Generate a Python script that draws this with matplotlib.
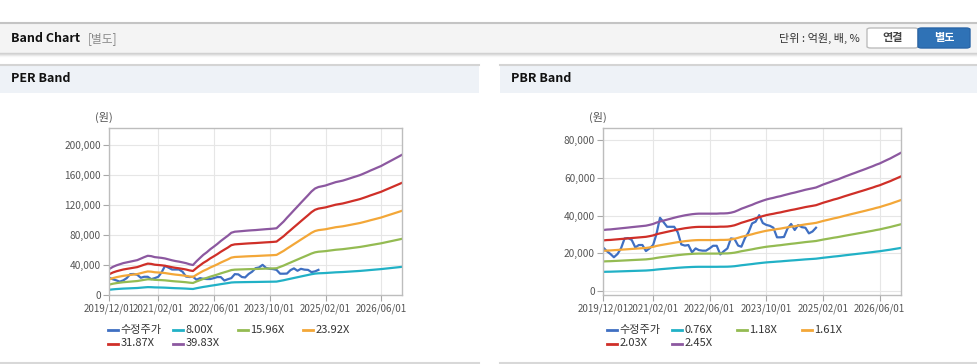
import numpy as np
import pandas as pd
import matplotlib
matplotlib.use('Agg')
import matplotlib.pyplot as plt
import matplotlib.dates as mdates
from matplotlib.lines import Line2D
from matplotlib.patches import Rectangle, FancyBboxPatch
from matplotlib.ticker import FuncFormatter

plt.rcParams['font.family'] = ['Noto Sans CJK KR', 'DejaVu Sans']

W, H = 978, 364

# 월별 데이터 (2019/12 ~ 2026/12)
months = pd.date_range('2019-12-01', periods=85, freq='MS')

# 수정주가 (2019/12 ~ 2024/12)
price = [22900, 21000, 19500, 17800, 19500, 22500, 27800, 28000, 27000, 23000,
         24300, 24300, 21100, 22500, 24300, 30000, 38800, 36500, 34000, 34000,
         34000, 31000, 24600, 24000, 24300, 20400, 22500, 21600, 21300, 21300,
         22500, 23900, 23900, 19300, 21000, 22500, 27800, 27500, 24000, 23400,
         28000, 31000, 35800, 36700, 40200, 36000, 35000, 34500, 33500, 28400,
         28400, 28600, 33200, 35500, 32300, 34900, 33800, 33500, 30500, 31500,
         33500]

# EPS (원)
eps = [871, 941, 992, 1029, 1067, 1092, 1117, 1142, 1167, 1218, 1268, 1313,
       1301, 1268, 1255, 1243, 1223, 1193, 1162, 1137, 1117, 1092, 1067, 1029, 1004,
       1130, 1243, 1343, 1431, 1532, 1619, 1707, 1808, 1898, 1983, 2084,
       2119, 2129, 2139, 2149, 2159, 2167, 2174, 2184, 2194, 2204, 2212, 2222, 2235,
       2348, 2460, 2586, 2712, 2837, 2963, 3088, 3214, 3339, 3465, 3565, 3615,
       3640, 3666, 3703, 3741, 3779, 3804, 3829, 3866, 3904, 3942, 3979, 4017,
       4067, 4118, 4168, 4218, 4268, 4318, 4381, 4444, 4507, 4569, 4632, 4695]

# BPS (원)
bps = [13180, 13270, 13310, 13390, 13470, 13550, 13630, 13710, 13800, 13880,
       13960, 14040, 14120, 14290, 14490, 14780, 15020, 15220, 15430, 15630,
       15840, 16040, 16200, 16370, 16490, 16610, 16690, 16730, 16730, 16730,
       16730, 16730, 16730, 16780, 16780, 16820, 16940, 17140, 17470, 17800,
       18080, 18370, 18650, 18980, 19270, 19550, 19800, 20000, 20160, 20370,
       20530, 20740, 20940, 21140, 21310, 21510, 21710, 21920, 22080, 22240,
       22410, 22730, 23060, 23310, 23590, 23880, 24120, 24410, 24730, 25020,
       25310, 25590, 25880, 26160, 26450, 26730, 27020, 27350, 27630, 28000,
       28370, 28730, 29140, 29550, 29960]

per_mult = [8.00, 15.96, 23.92, 31.87, 39.83]
pbr_mult = [0.76, 1.18, 1.61, 2.03, 2.45]

tick_dates = pd.to_datetime(['2019-12-01', '2021-02-01', '2022-06-01',
                             '2023-10-01', '2025-02-01', '2026-06-01'])
per_yticks = [0, 40000, 80000, 120000, 160000, 200000]
pbr_yticks = [0, 20000, 40000, 60000, 80000]

price_color = '#3f6fc2'
band_colors = ['#21b1c6', '#94bb52', '#f3a738', '#cf2f28', '#8c58a0']


def fx(x):
    return x / W


def fy(y):
    return 1 - y / H


fig = plt.figure(figsize=(W / 100, H / 100), dpi=100)
fig.patch.set_facecolor('white')

# 상단 헤더
fig.add_artist(Rectangle((0, fy(52.5)), 1, fy(22) - fy(52.5), transform=fig.transFigure,
                         facecolor='#f4f4f4', edgecolor='none'))
fig.add_artist(Line2D([0, 1], [fy(22.5), fy(22.5)], color='#c4c4c4', lw=1.5))
for i, a in enumerate([0.35, 0.22, 0.12, 0.05]):
    fig.add_artist(Line2D([0, 1], [fy(53 + i), fy(53 + i)], color='#888888', alpha=a, lw=1))

fig.text(fx(11), fy(38.5), 'Band Chart', fontsize=9, fontweight='bold', va='center', color='#111')
fig.text(fx(88), fy(38.5), '[별도]', fontsize=8.5, va='center', color='#8a8a8a')
fig.text(fx(860), fy(38.5), '단위 : 억원, 배, %', fontsize=8, va='center', ha='right', color='#333')

fig.add_artist(FancyBboxPatch((fx(867), fy(48)), fx(918) - fx(867), fy(28) - fy(48),
                              boxstyle='round,pad=0,rounding_size=0.004', transform=fig.transFigure,
                              facecolor='white', edgecolor='#bdbdbd', lw=1))
fig.add_artist(FancyBboxPatch((fx(918), fy(48)), fx(970) - fx(918), fy(28) - fy(48),
                              boxstyle='round,pad=0,rounding_size=0.004', transform=fig.transFigure,
                              facecolor='#2f72b6', edgecolor='#2a66a8', lw=1))
fig.text(fx(892.5), fy(38), '연결', fontsize=8, fontweight='bold', ha='center', va='center', color='#444')
fig.text(fx(944), fy(38), '별도', fontsize=8, fontweight='bold', ha='center', va='center', color='white')

# 패널 헤더
for x0, x1, title in [(0, 479, 'PER Band'), (500, 978, 'PBR Band')]:
    fig.add_artist(Rectangle((fx(x0), fy(93)), fx(x1) - fx(x0), fy(65) - fy(93),
                             transform=fig.transFigure, facecolor='#eef2f7', edgecolor='none'))
    fig.add_artist(Line2D([fx(x0), fx(x1)], [fy(64.5), fy(64.5)], color='#d4d4d4', lw=1.5))
    fig.add_artist(Line2D([fx(x0), fx(x1)], [fy(362.5), fy(362.5)], color='#d8d8d8', lw=1.5))
    fig.text(fx(x0 + 11), fy(79), title, fontsize=9, fontweight='bold', va='center', color='#111')


def style(ax, yticks, ylim):
    for s in ax.spines.values():
        s.set_color('#bdbdbd')
        s.set_linewidth(1)
    ax.grid(True, color='#e6e6e6', lw=0.8)
    ax.set_axisbelow(True)
    ax.tick_params(axis='both', colors='#a8a8a8', labelcolor='#555',
                   length=4, width=0.8, pad=2)
    ax.tick_params(axis='y', labelsize=7.3)
    ax.tick_params(axis='x', labelsize=7)
    ax.set_yticks(yticks)
    ax.yaxis.set_major_formatter(FuncFormatter(lambda v, p: f'{int(v):,}'))
    ax.set_xticks(tick_dates)
    ax.xaxis.set_major_formatter(mdates.DateFormatter('%Y/%m/%d'))
    ax.set_xlim(months[0], months[-1])
    ax.set_ylim(*ylim)


def legend(x0, labels, colors):
    for i, (lab, col) in enumerate(zip(labels, colors)):
        r, c = divmod(i, 4)
        x = x0 + c * 65
        y = [330, 343.5][r]
        fig.add_artist(Line2D([fx(x), fx(x + 10)], [fy(y), fy(y)], color=col, lw=2))
        fig.text(fx(x + 12.5), fy(y), lab, fontsize=8, va='center', color='#333')


eps_arr = np.array(eps)
bps_arr = np.array(bps)

# PER Band
ax1 = fig.add_axes([fx(109.3), fy(295), fx(402) - fx(109.3), fy(128) - fy(295)])
ax1.plot(months[:len(price)], price, color=price_color, lw=1.6)
for m, c in zip(per_mult, band_colors):
    ax1.plot(months, eps_arr * m, color=c, lw=1.6)
style(ax1, per_yticks, (0, 222700))
fig.text(fx(104), fy(117.5), '(원)', fontsize=8, ha='center', va='center', color='#555')
legend(108, ['수정주가'] + [f'{m:.2f}X' for m in per_mult], [price_color] + band_colors)

# PBR Band
ax2 = fig.add_axes([fx(603.3), fy(295.3), fx(901) - fx(603.3), fy(128.3) - fy(295.3)])
ax2.plot(months[:len(price)], price, color=price_color, lw=1.6)
for m, c in zip(pbr_mult, band_colors):
    ax2.plot(months, bps_arr * m, color=c, lw=1.6)
style(ax2, pbr_yticks, (-2450, 86400))
fig.text(fx(598), fy(117.5), '(원)', fontsize=8, ha='center', va='center', color='#555')
legend(606.7, ['수정주가'] + [f'{m:.2f}X' for m in pbr_mult], [price_color] + band_colors)

fig.savefig('out.png', dpi=100)
plt.close()
